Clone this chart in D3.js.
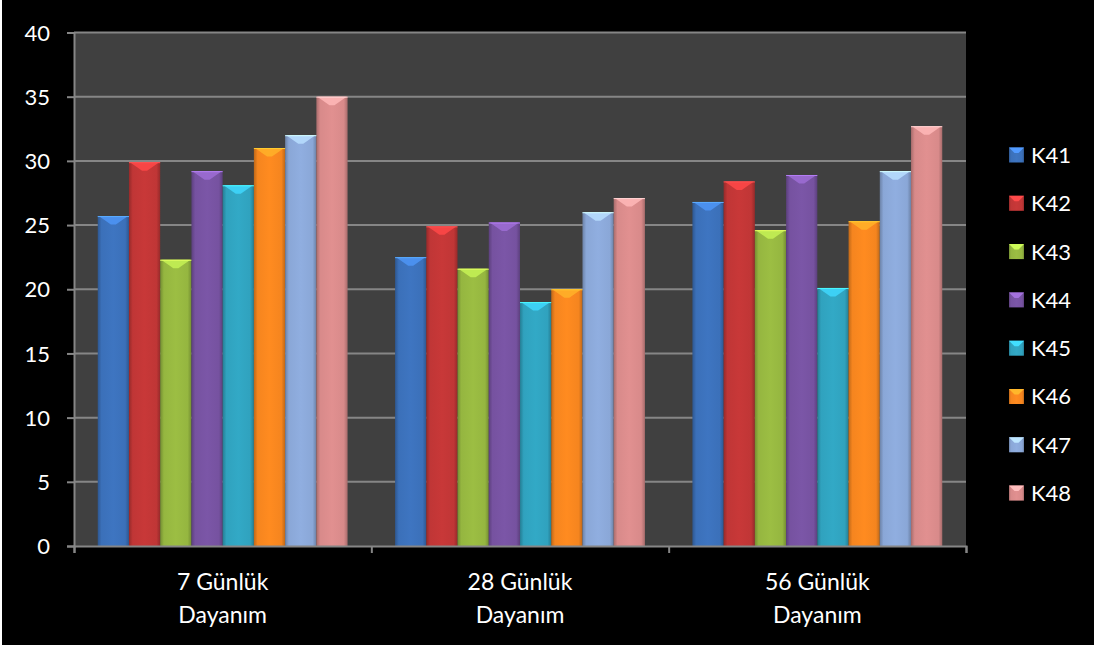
<!DOCTYPE html>
<html>
<head>
<meta charset="utf-8">
<script src="https://cdn.jsdelivr.net/npm/d3@7"></script>
<style>
html,body{margin:0;padding:0;background:#000;}
svg{display:block;}
</style>
</head>
<body>
<svg id="chart" width="1094" height="645"></svg>
<script>
const categories = [["7 Günlük","Dayanım"],["28 Günlük","Dayanım"],["56 Günlük","Dayanım"]];
const categoryKeys = ["7", "28", "56"];
const series = ["K41","K42","K43","K44","K45","K46","K47","K48"];
const K41 = [25.7, 22.5, 26.8];
const K42 = [29.9, 24.9, 28.4];
const K43 = [22.3, 21.6, 24.6];
const K44 = [29.2, 25.2, 28.9];
const K45 = [28.1, 19.0, 20.1];
const K46 = [31.0, 20.0, 25.3];
const K47 = [32.0, 26.0, 29.2];
const K48 = [35.0, 27.1, 32.7];
const values = {K41, K42, K43, K44, K45, K46, K47, K48};
const colors = ["#3b70b9","#c03636","#95b640","#7652a0","#30a2be","#f5851f","#8aa7d7","#d88a8a"];
const yTicks = [0,5,10,15,20,25,30,35,40];

const svg = d3.select("#chart");
const font = "Lato, 'Open Sans', sans-serif";

svg.append("rect").attr("x",0).attr("y",0).attr("width",1094).attr("height",645).attr("fill","#000");
svg.append("rect").attr("x",0).attr("y",0).attr("width",2).attr("height",645).attr("fill","#fff");

const pLeft = 74, pRight = 966, pTop = 32.5, pBottom = 546;
const x0 = d3.scaleBand().domain(categoryKeys).range([pLeft, pRight]).paddingInner(0).paddingOuter(0);
const x1 = d3.scaleBand().domain(series).range([0, x0.bandwidth()]).paddingInner(0).paddingOuter(0.76);
const y = d3.scaleLinear().domain([0,40]).range([pBottom, pTop]);
const color = d3.scaleOrdinal().domain(series).range(colors);

svg.append("rect").attr("x",pLeft).attr("y",pTop).attr("width",pRight-pLeft).attr("height",pBottom-pTop).attr("fill","#404040");

svg.append("g").selectAll("line").data(yTicks.filter(d=>d>0)).join("line")
  .attr("x1",pLeft).attr("x2",pRight).attr("y1",d=>y(d)).attr("y2",d=>y(d))
  .attr("stroke","#868686").attr("stroke-width",2);

const defs = svg.append("defs");
series.forEach((s,i)=>{
  const c = d3.color(colors[i]);
  const g = defs.append("linearGradient").attr("id","g"+s).attr("x1","0%").attr("x2","100%").attr("y1","0%").attr("y2","0%");
  g.append("stop").attr("offset","0%").attr("stop-color",c.darker(0.7));
  g.append("stop").attr("offset","12%").attr("stop-color",c);
  g.append("stop").attr("offset","50%").attr("stop-color",c.brighter(0.12));
  g.append("stop").attr("offset","88%").attr("stop-color",c);
  g.append("stop").attr("offset","100%").attr("stop-color",c.darker(0.7));
});

const groups = svg.append("g").selectAll("g").data(categoryKeys).join("g")
  .attr("transform",d=>`translate(${x0(d)},0)`);
groups.each(function(cat, ci){
  const g = d3.select(this);
  const data = series.map(s=>({s, v: values[s][ci]}));
  g.selectAll("rect.bar").data(data).join("rect").attr("class","bar")
    .attr("x",d=>x1(d.s)).attr("y",d=>y(d.v)).attr("width",x1.bandwidth()).attr("height",d=>y(0)-y(d.v))
    .attr("fill",d=>`url(#g${d.s})`);
  g.selectAll("path.bev").data(data).join("path").attr("class","bev")
    .attr("d",d=>{
      const bx = x1(d.s), by = y(d.v), w = x1.bandwidth();
      return `M${bx+1},${by}L${bx+w-1},${by}L${bx+w*0.58},${by+8.5}L${bx+w*0.42},${by+8.5}Z`;
    })
    .attr("fill",d=>d3.color(color(d.s)).brighter(0.8)).attr("opacity",0.85);
  g.selectAll("line.topl").data(data).join("line").attr("class","topl")
    .attr("x1",d=>x1(d.s)).attr("x2",d=>x1(d.s)+x1.bandwidth())
    .attr("y1",d=>y(d.v)+0.5).attr("y2",d=>y(d.v)+0.5)
    .attr("stroke",d=>d3.color(color(d.s)).brighter(1.2)).attr("stroke-width",1);
});

const yAxis = d3.axisLeft(y).tickValues(yTicks).tickSize(7).tickPadding(8);
const gy = svg.append("g").attr("transform",`translate(${pLeft},0)`).call(yAxis);
gy.select(".domain").attr("stroke","#868686").attr("stroke-width",2);
gy.selectAll(".tick line").attr("stroke","#868686").attr("stroke-width",2);
gy.selectAll(".tick text").attr("fill","#fff").attr("font-family",font).attr("font-size",22).attr("dy","0.35em").attr("x",-24);

const xTickScale = d3.scaleLinear().domain([0,3]).range([pLeft,pRight]);
const xAxis = d3.axisBottom(xTickScale).tickValues([0,1,2,3]).tickSize(7).tickFormat("");
const gx = svg.append("g").attr("transform",`translate(0,${pBottom})`).call(xAxis);
gx.select(".domain").attr("stroke","#868686").attr("stroke-width",2);
gx.selectAll(".tick line").attr("stroke","#868686").attr("stroke-width",2);

const lab = svg.append("g").selectAll("text").data(categoryKeys).join("text")
  .attr("x",d=>x0(d)+x0.bandwidth()/2).attr("y",590)
  .attr("text-anchor","middle").attr("fill","#fff").attr("font-family",font).attr("font-size",23);
lab.each(function(d,i){
  const t = d3.select(this);
  t.append("tspan").attr("x",x0(d)+x0.bandwidth()/2).attr("dy",0).text(categories[i][0]);
  t.append("tspan").attr("x",x0(d)+x0.bandwidth()/2).attr("dy",33).text(categories[i][1]);
});

const leg = svg.append("g").selectAll("g").data(series).join("g")
  .attr("transform",(d,i)=>`translate(1009,${155 + i*48.3})`);
leg.append("rect").attr("x",0).attr("y",-7.5).attr("width",15).attr("height",15).attr("fill",d=>`url(#g${d})`);
leg.append("path").attr("d","M0,-7.5L15,-7.5L9.5,-2L5.5,-2Z").attr("fill",d=>d3.color(color(d)).brighter(0.9));
leg.append("text").attr("x",22).attr("y",0).attr("dy","0.36em").attr("fill","#fff")
  .attr("font-family",font).attr("font-size",22).text(d=>d);
</script>
</body>
</html>
